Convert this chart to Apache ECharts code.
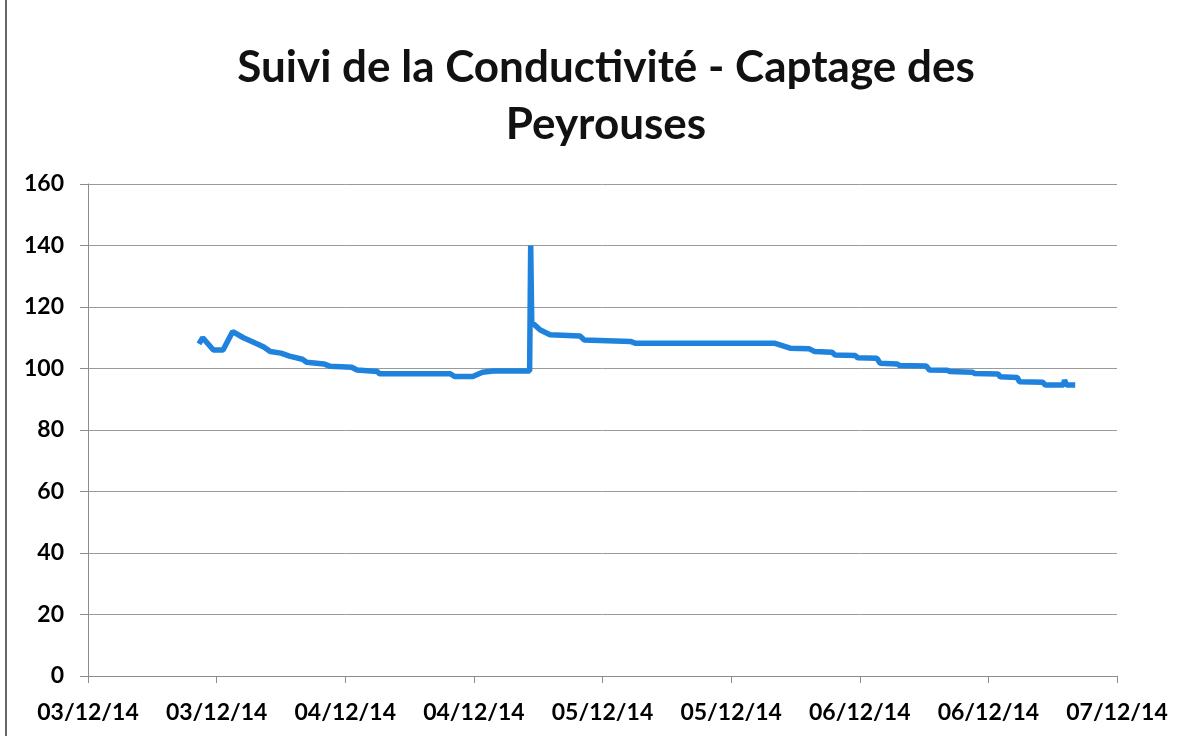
<!DOCTYPE html>
<html>
<head>
<meta charset="utf-8">
<script src="https://cdn.jsdelivr.net/npm/echarts@6/dist/echarts.min.js"></script>
<style>
  html, body { margin: 0; padding: 0; background: #fff; }
  #chart { width: 1186px; height: 736px; }
</style>
</head>
<body>
<div id="chart"></div>
<script>
// heures écoulées depuis le 03/12/14 00:00
const hours = [10.35, 10.7, 11.7, 12.6, 13.5, 14.5, 15.8, 16.4, 17.0, 18.0, 18.8, 20.0, 20.4, 22.0, 22.6, 24.6, 25.1, 27.0, 27.2,
  33.8, 34.2, 35.9, 36.8, 37.8, 41.2, 41.3, 41.4, 42.2, 43.1, 45.9, 46.3, 50.6, 51.1,
  64.1, 65.5, 67.3, 67.8, 69.4, 69.7, 71.6, 71.8, 73.6, 73.9, 75.5, 75.7, 78.2, 78.5, 80.2, 80.4,
  82.5, 82.7, 84.9, 85.1, 86.7, 86.9, 89.1, 89.3, 91.0, 91.1, 91.3, 92.1];
const conductivite = [108, 110, 106, 106, 112, 110, 108, 107, 105.5, 105, 104, 103, 102, 101.5, 100.7, 100.4, 99.5, 99, 98.3,
  98.3, 97.4, 97.4, 98.8, 99.2, 99.2, 140, 115, 112.5, 111, 110.6, 109.3, 108.8, 108.2,
  108.2, 106.6, 106.4, 105.5, 105.3, 104.4, 104.2, 103.5, 103.3, 101.7, 101.5, 101, 100.8, 99.5, 99.4, 99,
  98.8, 98.4, 98.2, 97.3, 97.1, 95.7, 95.5, 94.6, 94.6, 96.2, 94.6, 94.6];
const tickLabels = ['03/12/14', '03/12/14', '04/12/14', '04/12/14', '05/12/14', '05/12/14', '06/12/14', '06/12/14', '07/12/14'];

const chart = echarts.init(document.getElementById('chart'));
const labelFont = { color: '#000', fontFamily: 'Lato', fontWeight: 'bold', fontSize: 23 };

chart.setOption({
  animation: false,
  backgroundColor: '#fff',
  title: {
    text: 'Suivi de la Conductivité - Captage des\nPeyrouses',
    left: 601,
    textAlign: 'center',
    top: 34,
    textStyle: { color: '#111', fontFamily: 'Lato', fontWeight: 'bold', fontSize: 44, lineHeight: 57 }
  },
  graphic: [{
    type: 'line',
    shape: { x1: 6, y1: 0, x2: 6, y2: 736 },
    style: { stroke: '#666', lineWidth: 2 }
  }],
  grid: { left: 88, right: 69, top: 184, bottom: 60 },
  xAxis: {
    type: 'value',
    min: 0,
    max: 96,
    interval: 12,
    splitLine: { show: false },
    axisLine: { lineStyle: { color: '#8c8c8c', width: 1 } },
    axisTick: { show: true, length: 7, lineStyle: { color: '#8c8c8c' } },
    axisLabel: {
      ...labelFont,
      margin: 25,
      showMinLabel: true,
      showMaxLabel: true,
      hideOverlap: false,
      formatter: v => tickLabels[Math.round(v / 12)]
    }
  },
  yAxis: {
    type: 'value',
    min: 0,
    max: 160,
    interval: 20,
    axisLine: { show: true, lineStyle: { color: '#8c8c8c' } },
    axisTick: { show: true, length: 8, lineStyle: { color: '#8c8c8c' } },
    splitLine: { lineStyle: { color: '#9a9a9a', width: 1 } },
    axisLabel: { ...labelFont, margin: 24 }
  },
  series: [{
    type: 'line',
    data: hours.map((h, i) => [h, conductivite[i]]),
    showSymbol: false,
    lineStyle: { color: '#1f82dd', width: 5.5 },
    itemStyle: { color: '#1f82dd' }
  }]
});
</script>
</body>
</html>
